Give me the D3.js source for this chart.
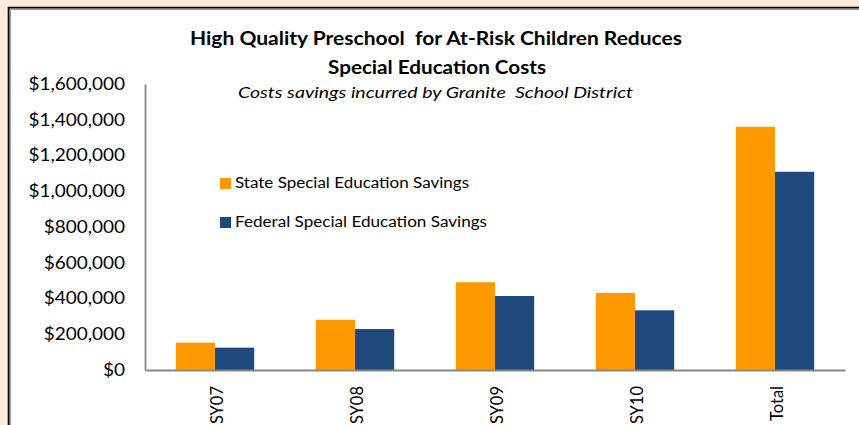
<!DOCTYPE html>
<html>
<head>
<meta charset="utf-8">
<script src="https://cdn.jsdelivr.net/npm/d3@7"></script>
<style>
  html, body { margin: 0; padding: 0; background: #fdeadb; }
  svg { display: block; }
  .keep-space { white-space: pre; }
</style>
</head>
<body>
<svg id="chart" width="859" height="425"></svg>
<script>
// School years plus the overall total
const categories = ["SY07", "SY08", "SY09", "SY10", "Total"];
const stateSavings = [153000, 281000, 491000, 431000, 1361000];
const federalSavings = [125000, 229000, 414000, 334000, 1109000];
const seriesNames = ["State Special Education Savings", "Federal Special Education Savings"];
const yTicks = [0, 200000, 400000, 600000, 800000, 1000000, 1200000, 1400000, 1600000];

const colors = ["#ff9900", "#1f497d"];
const fontFamily = "Lato, 'Open Sans', sans-serif";
const stretch = 1.15; // wide letterforms of the labels

const svg = d3.select("#chart");

// white chart panel with a dark frame on the top and left edges
svg.append("rect").attr("x", 8).attr("y", 7).attr("width", 851).attr("height", 418).attr("fill", "#fff");
svg.append("path").attr("d", "M9.5,425 V8.5 H859").attr("fill", "none").attr("stroke", "#9a9a9a").attr("stroke-width", 3);
svg.append("path").attr("d", "M8.5,425 V7.5 H859").attr("fill", "none").attr("stroke", "#000").attr("stroke-width", 1.6);

const plot = { left: 145, right: 845, top: 84, bottom: 370 };

const x = d3.scaleBand().domain(categories).range([plot.left, plot.right]).paddingInner(0.44).paddingOuter(0.22);
const xInner = d3.scaleBand().domain([0, 1]).range([0, x.bandwidth()]);
const y = d3.scaleLinear().domain([0, 1600000]).range([plot.bottom, plot.top]);

// bars
const groups = svg.append("g").selectAll("g").data(categories).join("g")
  .attr("transform", d => `translate(${x(d)},0)`);
groups.selectAll("rect")
  .data((d, i) => [stateSavings[i], federalSavings[i]])
  .join("rect")
  .attr("x", (d, j) => xInner(j))
  .attr("width", xInner.bandwidth())
  .attr("y", d => y(d))
  .attr("height", d => y(0) - y(d))
  .attr("fill", (d, j) => colors[j]);

// y axis
const yAxis = d3.axisLeft(y).tickValues(yTicks).tickSize(0).tickPadding(20)
  .tickFormat(d => "$" + d3.format(",")(d));
const yg = svg.append("g").attr("transform", `translate(${plot.left},0)`).call(yAxis);
yg.select(".domain").attr("stroke", "#868686").attr("stroke-width", 1.8);
yg.selectAll("text").attr("font-family", fontFamily).attr("font-size", 16.5).attr("fill", "#000")
  .attr("x", -20 / stretch)
  .attr("transform", `scale(${stretch},1)`);

// x axis with rotated labels
const xAxis = d3.axisBottom(x).tickSize(0).tickPadding(16);
const xg = svg.append("g").attr("transform", `translate(0,${plot.bottom})`).call(xAxis);
xg.select(".domain").attr("stroke", "#868686").attr("stroke-width", 1.8);
xg.selectAll("text")
  .attr("font-family", fontFamily).attr("font-size", 16.5).attr("fill", "#000")
  .attr("text-anchor", "end")
  .attr("dy", "0.35em")
  .attr("transform", "rotate(-90) translate(-16,-16) scale(1,1.08)");

// title and subtitle
const title = svg.append("text").attr("class", "keep-space").attr("text-anchor", "middle")
  .attr("font-family", fontFamily).attr("font-weight", "bold").attr("font-size", 18.5).attr("fill", "#000");
title.append("tspan").attr("x", 436).attr("y", 45)
  .attr("textLength", 492).attr("lengthAdjust", "spacingAndGlyphs")
  .text("High Quality Preschool  for At-Risk Children Reduces");
title.append("tspan").attr("x", 437).attr("y", 74)
  .attr("textLength", 218).attr("lengthAdjust", "spacingAndGlyphs")
  .text("Special Education Costs");
svg.append("text").attr("class", "keep-space").attr("x", 435.5).attr("y", 98).attr("text-anchor", "middle")
  .attr("font-family", fontFamily).attr("font-style", "italic").attr("font-size", 16).attr("fill", "#000")
  .attr("textLength", 395).attr("lengthAdjust", "spacingAndGlyphs")
  .text("Costs savings incurred by Granite  School District");

// legend
const legendWidths = [234, 252];
const legend = svg.append("g").selectAll("g").data(seriesNames).join("g")
  .attr("transform", (d, i) => `translate(220,${178 + i * 39})`);
legend.append("rect").attr("width", 11).attr("height", 11).attr("fill", (d, i) => colors[i]);
legend.append("text").attr("x", 15).attr("y", 10)
  .attr("font-family", fontFamily).attr("font-size", 15.5).attr("fill", "#000")
  .attr("textLength", (d, i) => legendWidths[i]).attr("lengthAdjust", "spacingAndGlyphs")
  .text(d => d);
</script>
</body>
</html>
